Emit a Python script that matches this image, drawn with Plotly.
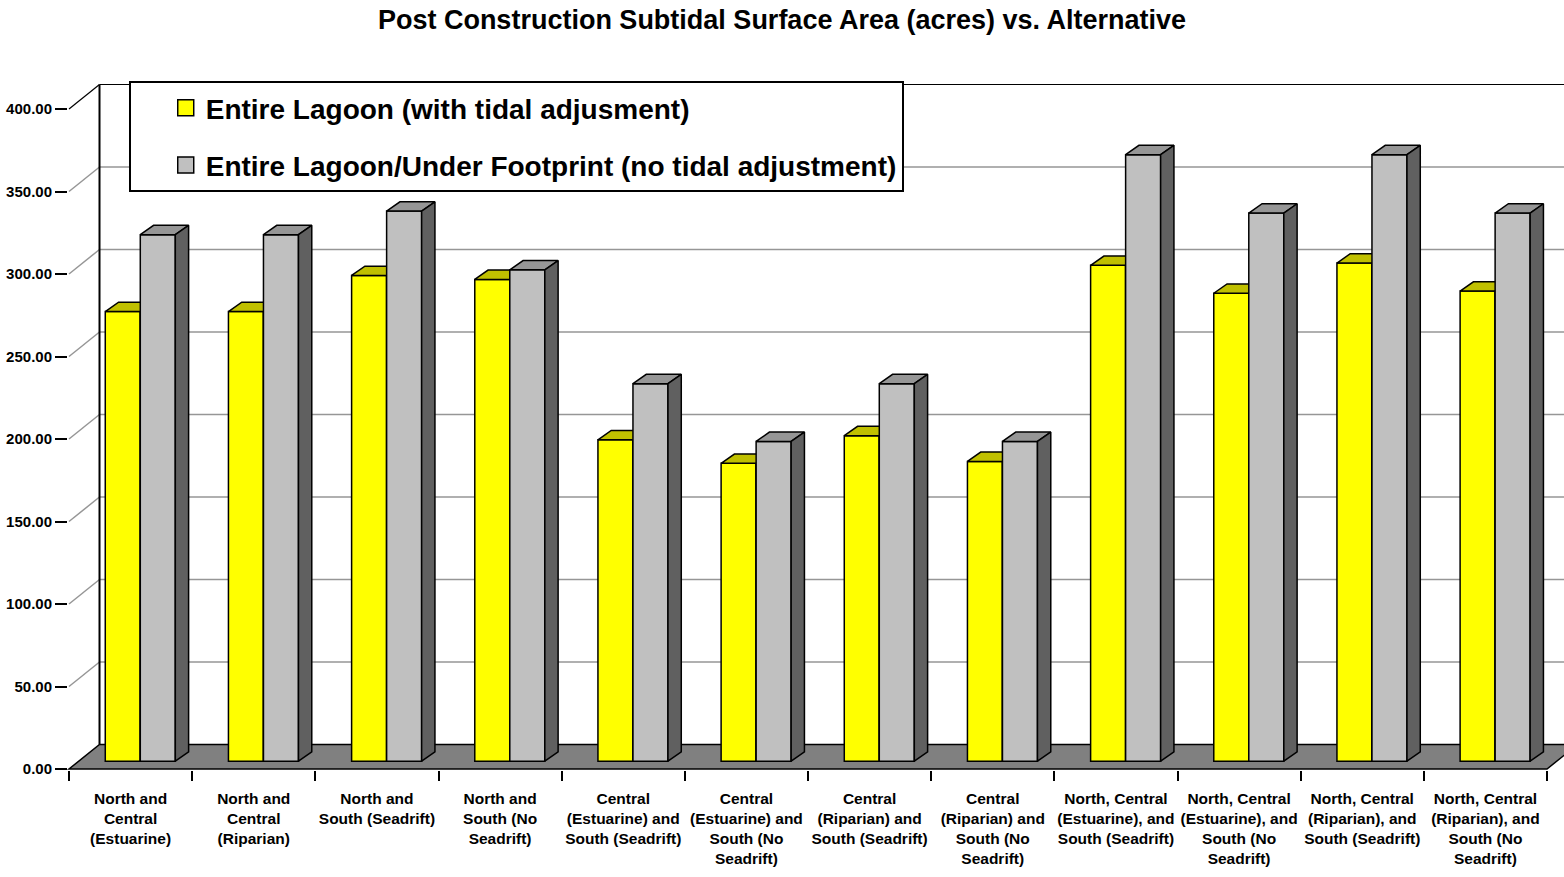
import plotly.graph_objects as go

# ---------------- data ----------------
categories = [
    "North and<br>Central<br>(Estuarine)",
    "North and<br>Central<br>(Riparian)",
    "North and<br>South (Seadrift)",
    "North and<br>South (No<br>Seadrift)",
    "Central<br>(Estuarine) and<br>South (Seadrift)",
    "Central<br>(Estuarine) and<br>South (No<br>Seadrift)",
    "Central<br>(Riparian) and<br>South (Seadrift)",
    "Central<br>(Riparian) and<br>South (No<br>Seadrift)",
    "North, Central<br>(Estuarine), and<br>South (Seadrift)",
    "North, Central<br>(Estuarine), and<br>South (No<br>Seadrift)",
    "North, Central<br>(Riparian), and<br>South (Seadrift)",
    "North, Central<br>(Riparian), and<br>South (No<br>Seadrift)",
]
series_names = [
    "Entire Lagoon (with tidal adjusment)",
    "Entire Lagoon/Under Footprint (no tidal adjustment)",
]
with_tidal = [272.5, 272.5, 294.4, 292.0, 194.8, 180.5, 197.3, 181.7, 300.5, 283.6, 301.9, 284.9]
no_tidal = [319.1, 319.1, 333.4, 297.8, 228.8, 193.8, 228.8, 193.8, 367.6, 332.2, 367.6, 332.2]
y_ticks = [0, 50, 100, 150, 200, 250, 300, 350, 400]

# ---------------- style ----------------
FONT = "Liberation Sans, Arial, sans-serif"
front_colors = ["#FFFF00", "#C0C0C0"]
top_colors = ["#C0C000", "#969696"]
side_colors = ["#808000", "#606060"]
GRID = "#969696"

n = len(categories)
X0, X1 = -0.5, n - 0.5
Y0, Y1 = 0, 400
# 3-D depth offsets (in axis units)
WALL_DX, WALL_DY = 0.2477, 14.86
BAR_DX, BAR_DY = 0.0788, 4.73
DEP_DX, DEP_DY = 0.108, 5.64
BAR_W = 0.2843


def px(x):
    return (x - X0) / (X1 - X0)


def py(y):
    return (y - Y0) / (Y1 - Y0)


fig = go.Figure()

# ---------------- walls, floor, gridlines ----------------
shapes = []
floor_pts = [(X0, 0), (X1, 0), (X1 + WALL_DX, WALL_DY), (X0 + WALL_DX, WALL_DY)]
path = "M " + " L ".join(f"{px(a)},{py(b)}" for a, b in floor_pts) + " Z"
shapes.append(dict(type="path", xref="paper", yref="paper", path=path,
                   fillcolor="#808080", line=dict(color="black", width=1.5), layer="below"))
for v in y_ticks[1:]:
    col = "black" if v == y_ticks[-1] else GRID
    w = 1.2 if v == y_ticks[-1] else 1.5
    shapes.append(dict(type="line", xref="paper", yref="paper",
                       x0=px(X0), y0=py(v), x1=px(X0 + WALL_DX), y1=py(v + WALL_DY),
                       line=dict(color=col, width=w), layer="below"))
    shapes.append(dict(type="line", xref="paper", yref="paper",
                       x0=px(X0 + WALL_DX), y0=py(v + WALL_DY), x1=1.05, y1=py(v + WALL_DY),
                       line=dict(color=col, width=w), layer="below"))
shapes.append(dict(type="line", xref="paper", yref="paper",
                   x0=px(X0 + WALL_DX), y0=py(WALL_DY), x1=px(X0 + WALL_DX), y1=py(Y1 + WALL_DY),
                   line=dict(color="black", width=2), layer="below"))

# ---------------- bars ----------------
series = [with_tidal, no_tidal]
offsets = [-BAR_W, 0.0]
for s, vals in enumerate(series):
    xs = [i + BAR_DX for i in range(n)]
    fig.add_trace(go.Bar(
        x=xs, y=vals, base=BAR_DY, width=BAR_W, offset=offsets[s],
        name=series_names[s], showlegend=False,
        marker=dict(color=front_colors[s], line=dict(color="black", width=1.5)),
        zorder=2 * s, hoverinfo="skip",
    ))
    tx, ty, sx, sy = [], [], [], []
    for i, v in enumerate(vals):
        xl = i + BAR_DX + offsets[s]
        xr = xl + BAR_W
        yt = BAR_DY + v
        tx += [xl, xr, xr + DEP_DX, xl + DEP_DX, xl, None]
        ty += [yt, yt, yt + DEP_DY, yt + DEP_DY, yt, None]
        sx += [xr, xr, xr + DEP_DX, xr + DEP_DX, xr, None]
        sy += [BAR_DY, yt, yt + DEP_DY, BAR_DY + DEP_DY, BAR_DY, None]
    fig.add_trace(go.Scatter(x=tx, y=ty, mode="lines", fill="toself",
                             fillcolor=top_colors[s], line=dict(color="black", width=1.5),
                             showlegend=False, hoverinfo="skip", zorder=2 * s + 1))
    fig.add_trace(go.Scatter(x=sx, y=sy, mode="lines", fill="toself",
                             fillcolor=side_colors[s], line=dict(color="black", width=1.5),
                             showlegend=False, hoverinfo="skip", zorder=2 * s + 1))

# legend entries (square swatches)
for s in range(2):
    fig.add_trace(go.Scatter(
        x=[None], y=[None], mode="markers", name=series_names[s], legendgroup=f"g{s}",
        marker=dict(symbol="square", size=18, color=front_colors[s],
                    line=dict(color="black", width=1.5)),
    ))

fig.update_layout(
    width=1564, height=877,
    margin=dict(l=69, r=17, t=109, b=108),
    paper_bgcolor="white", plot_bgcolor="rgba(0,0,0,0)",
    barmode="overlay",
    shapes=shapes,
    font=dict(family=FONT, color="black"),
    title=dict(text="Post Construction Subtidal Surface Area (acres) vs. Alternative",
               font=dict(family=FONT, size=27, weight="bold", color="black"),
               x=0.5, xref="container", xanchor="center",
               y=1 - 20 / 877, yref="container", yanchor="middle"),
    legend=dict(x=(129 - 69.3) / 1477.4, y=(768.5 - 81) / 659.5, xanchor="left", yanchor="top",
                bgcolor="white", bordercolor="black", borderwidth=2,
                font=dict(family=FONT, size=28, weight="bold", color="black"),
                indentation=35, tracegroupgap=18, traceorder="grouped",
                itemsizing="trace"),
    xaxis=dict(range=[X0, X1], showgrid=False, zeroline=False, automargin=False,
               showline=True, linecolor="black", linewidth=2,
               tickmode="array", tickvals=list(range(n)), ticktext=categories, ticks="",
               ticklabelstandoff=14,
               tickfont=dict(family=FONT, size=15.5, weight="bold", color="black"),
               minor=dict(tickmode="array", tickvals=[i - 0.5 for i in range(n + 1)],
                          ticks="outside", ticklen=10, tickwidth=2, tickcolor="black",
                          showgrid=False)),
    yaxis=dict(range=[Y0, Y1], showgrid=False, zeroline=False, automargin=False,
               showline=True, linecolor="black", linewidth=2,
               tickmode="array", tickvals=y_ticks, tickformat=".2f",
               ticks="outside", ticklen=12, tickwidth=2, tickcolor="black",
               tickfont=dict(family=FONT, size=15, weight="bold", color="black")),
)

fig.write_html("out.html", config={"displayModeBar": False},
               post_script="document.body.style.margin='0';")
